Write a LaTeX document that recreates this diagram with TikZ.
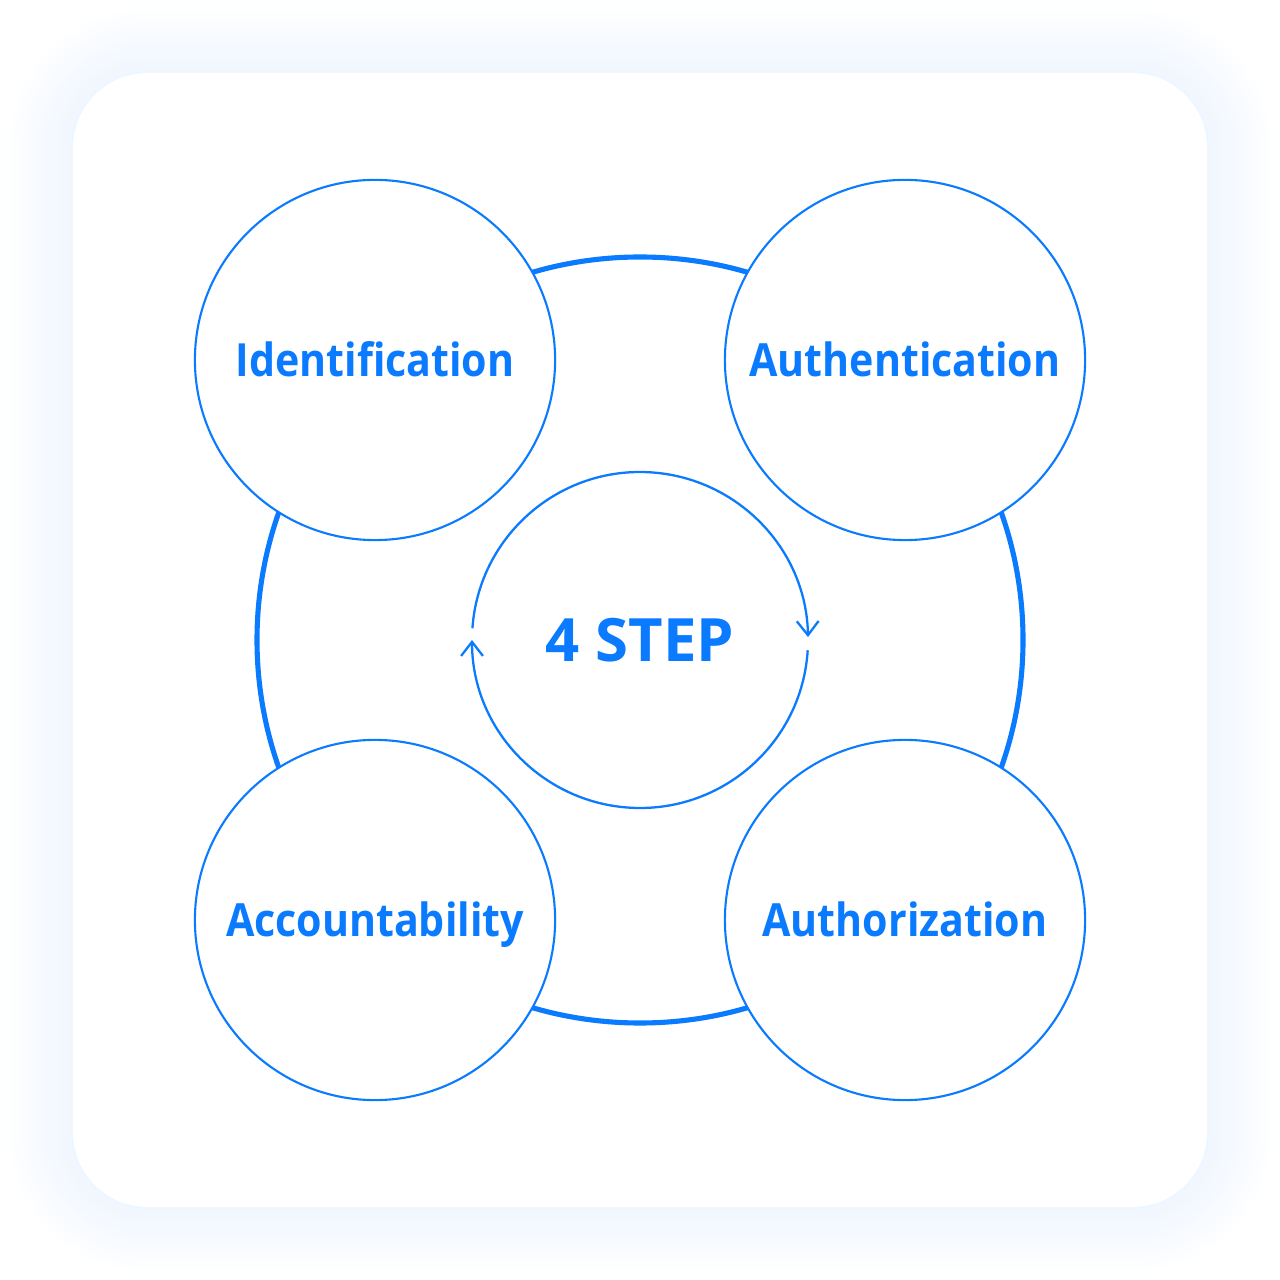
\documentclass[tikz,border=0pt]{standalone}
\usepackage{fontspec}
\setmainfont{Open Sans}
\newfontfamily\labfont{Open Sans}[FakeStretch=0.9]
\usetikzlibrary{arrows.meta}
\definecolor{mainblue}{RGB}{10,122,255}
\definecolor{glow}{RGB}{205,225,255}
\begin{document}
\begin{tikzpicture}[x=0.01cm,y=-0.01cm,
  phase/.style={circle, draw=mainblue, line width=0.6pt, fill=white,
    minimum size=3.6cm, inner sep=0pt, text=mainblue,
    font=\labfont\fontsize{13}{15}\selectfont\bfseries, text height=9.3pt, text depth=0pt},
  hub/.style={circle, minimum size=3.36cm, inner sep=0pt, text=mainblue,
    font=\fontsize{17}{20}\selectfont\bfseries, text height=12.2pt, text depth=0pt},
  ring/.style={draw=mainblue, line width=1.45pt},
  cyc/.style={draw=mainblue, line width=0.65pt, -{Straight Barb[length=4pt, width=6.2pt]}}]
\useasboundingbox (0,0) rectangle (1280,1280);
% soft glow around card
\foreach \d in {0,3,...,66} {
  \pgfmathsetmacro\rr{(75+\d)*0.28453}
  \fill[glow, opacity=0.016, rounded corners=\rr pt] (73-\d,73-\d) rectangle (1207+\d,1207+\d);
}
\fill[white, rounded corners=21.3pt] (73,73) rectangle (1207,1207);
% center hub
\node[hub] (c) at (640,640) {4 STEP};
% big ring
\draw[ring] (c.center) circle[radius=383];
% cycle arcs
\draw[cyc] ([shift={(184:168)}]c.center) arc[start angle=184, end angle=359, radius=168];
\draw[cyc] ([shift={(3.5:168)}]c.center) arc[start angle=3.5, end angle=180, radius=168];
% four phases
\node[phase] (id) at (375,360) {Identification};
\node[phase] (au) at (905,360) {Authentication};
\node[phase] (ac) at (375,920) {Accountability};
\node[phase] (az) at (905,920) {Authorization};
\end{tikzpicture}
\end{document}
